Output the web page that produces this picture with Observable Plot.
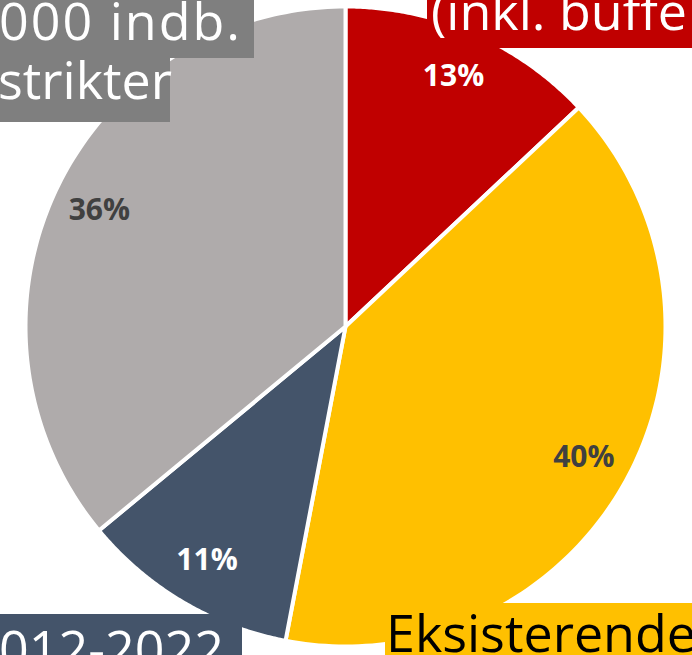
<!DOCTYPE html>
<html><head><meta charset="utf-8">
<script src="https://cdn.jsdelivr.net/npm/d3@7"></script>
<script src="https://cdn.jsdelivr.net/npm/@observablehq/plot@0.6"></script>
<style>
html,body{margin:0;padding:0;background:#fff;overflow:hidden}
#wrap{position:relative;width:692px;height:655px;overflow:hidden}
#wrap svg{position:absolute;left:0;top:0}
.box{position:absolute;overflow:hidden}
.txt{position:absolute;font-family:"Open Sans",sans-serif;font-size:52px;line-height:52px;white-space:nowrap}
</style></head><body><div id="wrap"></div>
<script>
const categories = ["Rød", "Eksisterende", "2012-2022", "Grå"];
const values = [13, 40, 11, 36];
const pctLabels = ["13%", "40%", "11%", "36%"];
const sliceColors = ["#C00000", "#FFC000", "#44546A", "#AFABAB"];
const labelColors = ["#FFFFFF", "#404040", "#FFFFFF", "#404040"];

// annotation boxes (visible, cropped text of the original)
const boxTexts = ["000 indb.", "strikter", "(inkl. buffe", "012-2022", "Eksisterende"];
const boxColors = ["#7F7F7F", "#7F7F7F", "#C00000", "#44546A", "#FFC000"];
const boxTextColors = ["#FFFFFF", "#FFFFFF", "#FFFFFF", "#FFFFFF", "#000000"];

const total = d3.sum(values);
const slices = [];
let acc = 0;
values.forEach((v, i) => {
  const a0 = acc / total * 2 * Math.PI;
  acc += v;
  const a1 = acc / total * 2 * Math.PI;
  slices.push({cat: categories[i], a0, a1, mid: (a0 + a1) / 2, label: pctLabels[i], lc: labelColors[i]});
});

const poly = [];
for (const s of slices) {
  poly.push({cat: s.cat, x: 0, y: 0});
  const n = 120;
  for (let k = 0; k <= n; k++) {
    const t = s.a0 + (s.a1 - s.a0) * k / n;
    poly.push({cat: s.cat, x: Math.sin(t), y: Math.cos(t)});
  }
}
const lab = slices.map(s => ({x: 0.85 * Math.sin(s.mid), y: 0.85 * Math.cos(s.mid), label: s.label, lc: s.lc}));

const chart = Plot.plot({
  width: 692, height: 655, margin: 0,
  x: {domain: [-1, 1], range: [25, 665], axis: null},
  y: {domain: [-1, 1], range: [646, 6], axis: null},
  color: {domain: categories, range: sliceColors},
  style: {background: "#fff"},
  marks: [
    Plot.line(poly, {x: "x", y: "y", z: "cat", fill: "cat", stroke: "#fff", strokeWidth: 4, strokeLinejoin: "round", curve: "linear-closed"}),
    Plot.text(lab, {x: "x", y: "y", text: "label", fill: "lc", fontSize: 30, fontWeight: "bold", fontFamily: "'Open Sans', sans-serif"})
  ]
});
const wrap = document.getElementById("wrap");
wrap.appendChild(chart);

// box layout: [left, top, width, height, textLeft, baseline, letterSpacing]
const boxLayout = [
  [0, 0, 254, 58, -1, 40, 2],
  [0, 58, 170, 64, -2, 99, 0],
  [427, 0, 265, 48, 431, 30, 0],
  [0, 614, 242, 41, -1, 668, 0],
  [385, 603, 307, 52, 386, 652, 0]
];
boxTexts.forEach((t, i) => {
  const [l, tp, w, h, tl, bl, ls] = boxLayout[i];
  const b = document.createElement("div");
  b.className = "box";
  Object.assign(b.style, {left: l + "px", top: tp + "px", width: w + "px", height: h + "px", background: boxColors[i]});
  wrap.appendChild(b);
  const d = document.createElement("div");
  d.className = "txt";
  d.textContent = t;
  // Open Sans: baseline at ~0.888em from top when line-height = 1em
  Object.assign(d.style, {left: tl + "px", top: (bl - 0.888 * 52) + "px", color: boxTextColors[i], letterSpacing: ls + "px"});
  wrap.appendChild(d);
});
</script></body></html>
